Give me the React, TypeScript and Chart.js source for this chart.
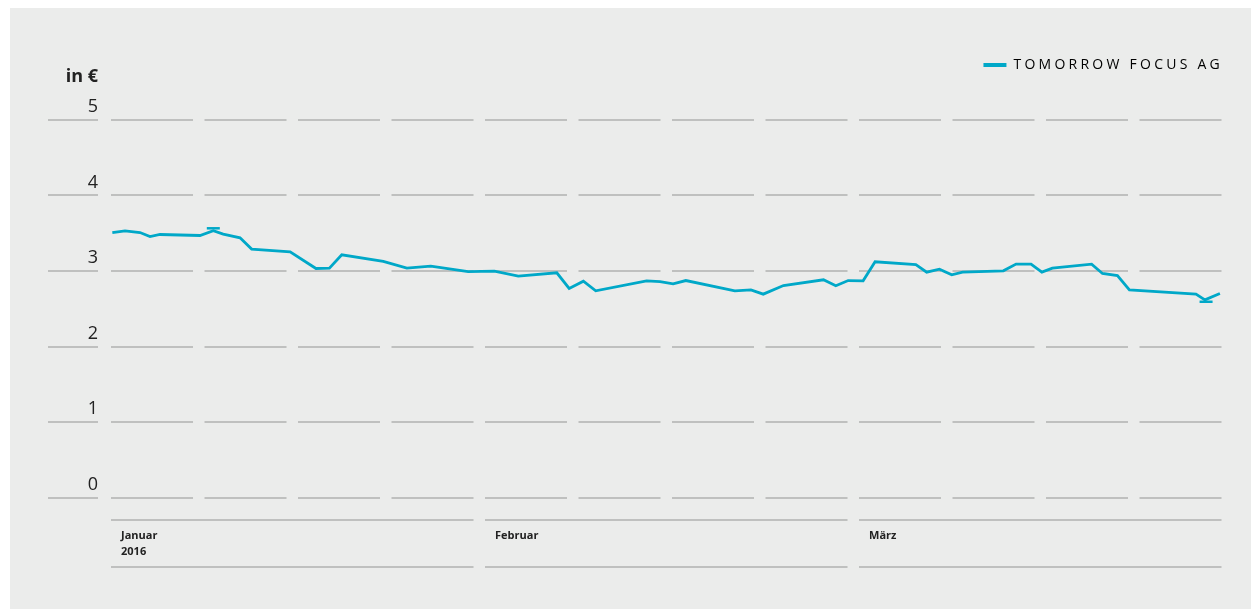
import React, { useEffect, useRef } from 'react';
import { Chart, registerables } from 'chart.js';

Chart.register(...registerables);

// ---------- data ----------
const seriesName = 'TOMORROW FOCUS AG';
const monthLabels: (string | string[])[] = [['Januar', '2016'], 'Februar', 'März'];
const monthTickValues = [0, 1, 2];
// position of each quote on the time axis, in months since 1 Jan 2016
const quoteX = [
  0.0035, 0.0374, 0.0775, 0.1043, 0.131, 0.238, 0.2735, 0.3, 0.345, 0.376,
  0.479, 0.548, 0.584, 0.617, 0.728, 0.791, 0.855, 0.955, 1.025, 1.089,
  1.192, 1.225, 1.263, 1.296, 1.432, 1.468, 1.503, 1.537, 1.668, 1.711,
  1.744, 1.798, 1.905, 1.938, 1.971, 2.011, 2.043, 2.152, 2.181, 2.215,
  2.248, 2.277, 2.386, 2.42, 2.46, 2.489, 2.517, 2.622, 2.651, 2.691,
  2.723, 2.901, 2.925, 2.965,
];
// share price in EUR
const quoteY = [
  3.509, 3.532, 3.509, 3.456, 3.483, 3.47, 3.532, 3.488, 3.439, 3.29,
  3.254, 3.033, 3.038, 3.214, 3.126, 3.038, 3.065, 2.993, 2.999, 2.933,
  2.976, 2.769, 2.866, 2.738, 2.87, 2.861, 2.831, 2.874, 2.738, 2.751,
  2.694, 2.808, 2.884, 2.804, 2.874, 2.87, 3.122, 3.086, 2.985, 3.025,
  2.95, 2.985, 3.003, 3.091, 3.091, 2.985, 3.038, 3.091, 2.967, 2.94,
  2.751, 2.694, 2.619, 2.702,
];
// period high / low markers
const extremeX = [0.2735, 2.928];
const extremeY = [3.565, 2.593];
// y axis
const yTickValues = [0, 1, 2, 3, 4, 5];
const unitLabel = 'in €';
const unitTickValue = 5.4;
const monthRuleValues = [-0.915, -0.291];

// ---------- styles ----------
const FONT = "'Open Sans', 'Noto Sans', sans-serif";
const LINE_COLOR = '#00a8c8';
const GRID_COLOR = '#bfc0bf';
const PANEL_BG = '#ebeceb';
const TEXT_COLOR = '#222222';
const GAP = 11.5;

const spacedLegend = {
  id: 'spacedLegend',
  afterInit(chart: any) {
    const lg = chart.legend;
    if (!lg) return;
    const wrap = (fn: any) =>
      function (this: any, ...args: any[]) {
        const c = chart.ctx;
        c.save();
        c.letterSpacing = '3.25px';
        try {
          return fn.apply(lg, args);
        } finally {
          c.restore();
        }
      };
    lg.fit = wrap(lg.fit);
    lg.draw = wrap(lg.draw);
  },
};

function gridDash(c: any) {
  const ch = c.chart;
  const xs = ch.scales && ch.scales.x;
  const area = ch.chartArea;
  if (!xs || !area) return [];
  const x0 = xs.getPixelForValue(0);
  const month = xs.getPixelForValue(1) - x0;
  const col = month / 4;
  const lead = x0 - area.left;
  const v = c.tick ? c.tick.value : 0;
  if (v < -0.1) {
    const seg = month - GAP;
    return [0, lead, seg, GAP, seg, GAP, seg, 4000];
  }
  const arr = [0, lead];
  for (let i = 0; i < 11; i++) arr.push(col - GAP, GAP);
  arr.push(col - GAP, 4000);
  return arr;
}

const isValueTick = (c: any) => c.tick && yTickValues.includes(c.tick.value);

export default function App() {
  const ref = useRef<HTMLCanvasElement | null>(null);

  useEffect(() => {
    if (!ref.current) return;
    Chart.defaults.font.family = FONT;
    const chart = new Chart(ref.current, {
      type: 'line',
      data: {
        datasets: [
          {
            label: seriesName,
            data: quoteX.map((x, i) => ({ x, y: quoteY[i] })),
            borderColor: LINE_COLOR,
            backgroundColor: LINE_COLOR,
            borderWidth: 2.8,
            pointRadius: 0,
            tension: 0,
            fill: false,
          },
          {
            label: 'Hoch/Tief',
            data: extremeX.map((x, i) => ({ x, y: extremeY[i] })),
            showLine: false,
            pointStyle: 'line',
            pointRadius: 6.5,
            borderWidth: 2.5,
            borderColor: LINE_COLOR,
            backgroundColor: LINE_COLOR,
          },
        ],
      },
      options: {
        animation: false,
        responsive: true,
        maintainAspectRatio: false,
        events: [],
        layout: { padding: { left: 38, right: 18, top: 40, bottom: 42 } },
        plugins: {
          tooltip: { enabled: false },
          title: { display: false },
          legend: {
            display: true,
            position: 'top',
            align: 'end',
            labels: {
              boxWidth: 23,
              boxHeight: 4,
              padding: 10,
              color: TEXT_COLOR,
              font: { family: FONT, size: 14 },
              generateLabels: () => [
                {
                  text: seriesName,
                  fillStyle: LINE_COLOR,
                  strokeStyle: LINE_COLOR,
                  lineWidth: 0,
                  datasetIndex: 0,
                  hidden: false,
                } as any,
              ],
            },
          },
        },
        scales: {
          x: {
            type: 'linear',
            min: -0.0348,
            max: 3.0,
            afterBuildTicks: (s: any) => {
              s.ticks = monthTickValues.map((v) => ({ value: v }));
            },
            afterFit: (s: any) => {
              s.height = 0;
            },
            grid: { display: false },
            border: { display: false },
            ticks: {
              autoSkip: false,
              maxRotation: 0,
              minRotation: 0,
              align: 'start',
              mirror: true,
              labelOffset: 10,
              padding: 23.5,
              color: TEXT_COLOR,
              font: { family: FONT, size: 11, weight: 'bold', lineHeight: 1.45 },
              callback: (_v: any, i: number) => monthLabels[i] as any,
            },
          },
          y: {
            type: 'linear',
            min: -0.915,
            max: 5.5,
            afterBuildTicks: (s: any) => {
              s.ticks = [...monthRuleValues, ...yTickValues, unitTickValue].map((v) => ({ value: v }));
            },
            afterFit: (s: any) => {
              s.width = 50;
            },
            border: { display: false, dash: gridDash as any },
            grid: {
              drawTicks: true,
              tickLength: 50,
              lineWidth: 2,
              color: (c: any) => (c.tick && c.tick.value > 5.2 ? 'rgba(0,0,0,0)' : GRID_COLOR),
              tickColor: (c: any) => (isValueTick(c) ? GRID_COLOR : 'rgba(0,0,0,0)'),
            },
            ticks: {
              autoSkip: false,
              padding: -50,
              labelOffset: -13,
              color: TEXT_COLOR,
              font: (c: any) =>
                c.tick && c.tick.value === unitTickValue
                  ? { family: FONT, size: 18, weight: 'bold' }
                  : { family: FONT, size: 18, weight: 'normal' },
              callback: (v: any) =>
                yTickValues.includes(v) ? String(v) : v === unitTickValue ? unitLabel : '',
            },
          },
        },
      },
      plugins: [spacedLegend],
    } as any);
    return () => chart.destroy();
  }, []);

  return (
    <div
      style={{
        position: 'fixed',
        left: 10,
        top: 8,
        width: 1241,
        height: 601,
        background: PANEL_BG,
      }}
    >
      <canvas ref={ref} />
    </div>
  );
}
